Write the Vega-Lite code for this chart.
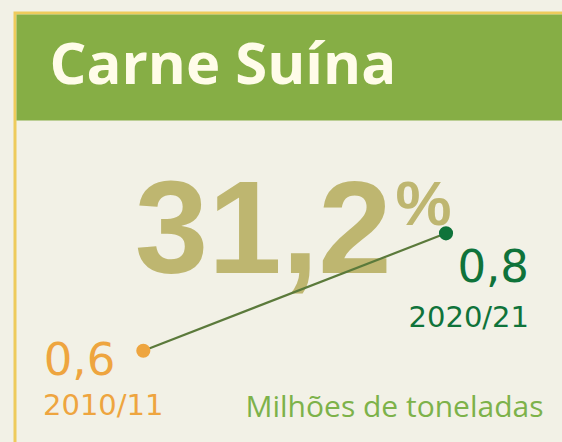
{
  "$schema": "https://vega.github.io/schema/vega-lite/v6.json",
  "width": 547,
  "height": 429,
  "autosize": {"type": "none"},
  "padding": {"left": 15, "top": 13, "right": 0, "bottom": 0},
  "background": "#f2f1e6",
  "config": {
    "view": {"fill": "#f2f1e6", "stroke": "#eecb5c", "strokeWidth": 3, "strokeDash": [547, 976, 429]},
    "locale": {"number": {"decimal": ",", "thousands": ".", "grouping": [3], "currency": ["R$", ""]}}
  },
  "data": {"values": [
    {"safra": "2010/11", "ano": 2010, "valor": 0.6},
    {"safra": "2020/21", "ano": 2020, "valor": 0.8}
  ]},
  "layer": [
    {
      "data": {"values": [{}]},
      "mark": {"type": "rect", "color": "#86ae45"},
      "encoding": {
        "x": {"datum": 2005.81, "type": "quantitative", "scale": {"domain": [2005.761, 2023.832], "nice": false, "zero": false}, "axis": null},
        "x2": {"datum": 2024.5},
        "y": {"datum": 1.1727, "type": "quantitative", "scale": {"domain": [0.4445, 1.1753], "nice": false, "zero": false}, "axis": null},
        "y2": {"datum": 0.9922}
      }
    },
    {
      "data": {"values": [{}]},
      "mark": {"type": "text", "text": "31,2", "font": "Liberation Sans", "fontWeight": "bold", "fontSize": 132, "align": "center", "baseline": "alphabetic", "color": "#beb670"},
      "encoding": {
        "x": {"datum": 2013.964, "type": "quantitative"},
        "y": {"datum": 0.7319, "type": "quantitative"}
      }
    },
    {
      "data": {"values": [{}]},
      "mark": {"type": "text", "text": "%", "font": "Liberation Sans", "fontWeight": "bold", "fontSize": 63, "align": "left", "baseline": "alphabetic", "color": "#beb670"},
      "encoding": {
        "x": {"datum": 2018.33, "type": "quantitative"},
        "y": {"datum": 0.8141, "type": "quantitative"}
      }
    },
    {
      "mark": {"type": "line", "color": "#5b7a3b", "strokeWidth": 2.2},
      "encoding": {
        "x": {"field": "ano", "type": "quantitative"},
        "y": {"field": "valor", "type": "quantitative"}
      }
    },
    {
      "mark": {"type": "point", "filled": true, "size": 200, "opacity": 1},
      "encoding": {
        "x": {"field": "ano", "type": "quantitative"},
        "y": {"field": "valor", "type": "quantitative"},
        "color": {"field": "safra", "type": "nominal", "scale": {"domain": ["2010/11", "2020/21"], "range": ["#eea53f", "#0f733a"]}, "legend": null}
      }
    },
    {
      "transform": [{"filter": "datum.ano == 2010"}],
      "mark": {"type": "text", "font": "DejaVu Sans", "fontSize": 45, "align": "left", "baseline": "alphabetic", "dx": -99.6, "dy": 24.3, "color": "#eea53f"},
      "encoding": {
        "x": {"field": "ano", "type": "quantitative"},
        "y": {"field": "valor", "type": "quantitative"},
        "text": {"field": "valor", "type": "quantitative", "format": ".1f"}
      }
    },
    {
      "transform": [{"filter": "datum.ano == 2010"}],
      "mark": {"type": "text", "font": "DejaVu Sans", "fontSize": 29, "align": "left", "baseline": "alphabetic", "dx": -100.3, "dy": 64.3, "color": "#eea53f"},
      "encoding": {
        "x": {"field": "ano", "type": "quantitative"},
        "y": {"field": "valor", "type": "quantitative"},
        "text": {"field": "safra", "type": "nominal"}
      }
    },
    {
      "transform": [{"filter": "datum.ano == 2020"}],
      "mark": {"type": "text", "font": "DejaVu Sans", "fontSize": 45, "align": "right", "baseline": "alphabetic", "dx": 83, "dy": 48.4, "color": "#0f733a"},
      "encoding": {
        "x": {"field": "ano", "type": "quantitative"},
        "y": {"field": "valor", "type": "quantitative"},
        "text": {"field": "valor", "type": "quantitative", "format": ".1f"}
      }
    },
    {
      "transform": [{"filter": "datum.ano == 2020"}],
      "mark": {"type": "text", "font": "DejaVu Sans", "fontSize": 29, "align": "right", "baseline": "alphabetic", "dx": 83, "dy": 94, "color": "#0f733a"},
      "encoding": {
        "x": {"field": "ano", "type": "quantitative"},
        "y": {"field": "valor", "type": "quantitative"},
        "text": {"field": "safra", "type": "nominal"}
      }
    },
    {
      "data": {"values": [{}]},
      "mark": {"type": "text", "text": "Carne Suína", "font": "Open Sans", "fontWeight": "bold", "fontSize": 58, "align": "left", "baseline": "alphabetic", "color": "#fffce9"},
      "encoding": {
        "x": {"datum": 2006.9, "type": "quantitative"},
        "y": {"datum": 1.0544, "type": "quantitative"}
      }
    },
    {
      "data": {"values": [{}]},
      "mark": {"type": "text", "text": "Milhões de toneladas", "font": "Open Sans", "fontSize": 30, "align": "center", "baseline": "alphabetic", "color": "#7db24a"},
      "encoding": {
        "x": {"datum": 2018.298, "type": "quantitative"},
        "y": {"datum": 0.4876, "type": "quantitative"}
      }
    }
  ]
}
